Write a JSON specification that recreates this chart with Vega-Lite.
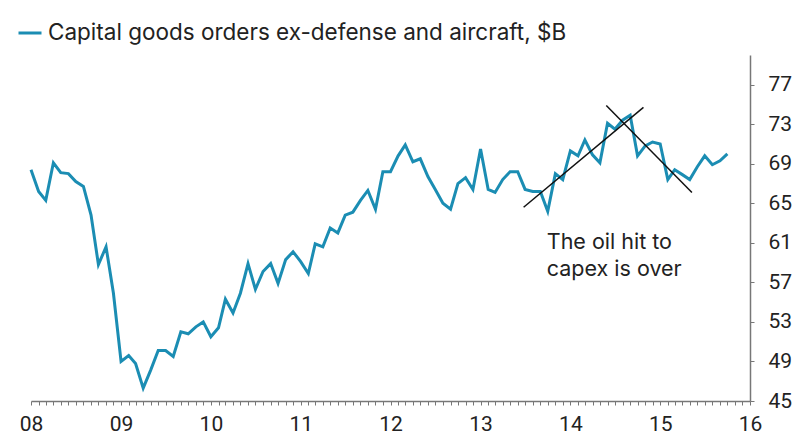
{
  "$schema": "https://vega.github.io/schema/vega-lite/v6.json",
  "width": 719,
  "height": 346,
  "autosize": {"type": "none"},
  "padding": {"left": 31, "top": 55, "right": 50, "bottom": 47},
  "background": "white",
  "config": {
    "view": {"stroke": null},
    "axis": {"grid": false, "labelFont": "Liberation Sans Narrow, Roboto", "labelFontSize": 21, "labelColor": "#222", "domainColor": "#777", "tickColor": "#777", "title": null}
  },
  "datasets": {
    "orders": [
      {"series": "Capital goods orders ex-defense and aircraft, $B", "date": "2008/01/01", "value": 68.4},
      {"series": "Capital goods orders ex-defense and aircraft, $B", "date": "2008/02/01", "value": 66.2},
      {"series": "Capital goods orders ex-defense and aircraft, $B", "date": "2008/03/01", "value": 65.3},
      {"series": "Capital goods orders ex-defense and aircraft, $B", "date": "2008/04/01", "value": 69.1},
      {"series": "Capital goods orders ex-defense and aircraft, $B", "date": "2008/05/01", "value": 68.1},
      {"series": "Capital goods orders ex-defense and aircraft, $B", "date": "2008/06/01", "value": 68.0},
      {"series": "Capital goods orders ex-defense and aircraft, $B", "date": "2008/07/01", "value": 67.2},
      {"series": "Capital goods orders ex-defense and aircraft, $B", "date": "2008/08/01", "value": 66.7},
      {"series": "Capital goods orders ex-defense and aircraft, $B", "date": "2008/09/01", "value": 63.8},
      {"series": "Capital goods orders ex-defense and aircraft, $B", "date": "2008/10/01", "value": 58.8},
      {"series": "Capital goods orders ex-defense and aircraft, $B", "date": "2008/11/01", "value": 60.6},
      {"series": "Capital goods orders ex-defense and aircraft, $B", "date": "2008/12/01", "value": 55.9},
      {"series": "Capital goods orders ex-defense and aircraft, $B", "date": "2009/01/01", "value": 49.0},
      {"series": "Capital goods orders ex-defense and aircraft, $B", "date": "2009/02/01", "value": 49.6},
      {"series": "Capital goods orders ex-defense and aircraft, $B", "date": "2009/03/01", "value": 48.8},
      {"series": "Capital goods orders ex-defense and aircraft, $B", "date": "2009/04/01", "value": 46.3},
      {"series": "Capital goods orders ex-defense and aircraft, $B", "date": "2009/05/01", "value": 48.1},
      {"series": "Capital goods orders ex-defense and aircraft, $B", "date": "2009/06/01", "value": 50.1},
      {"series": "Capital goods orders ex-defense and aircraft, $B", "date": "2009/07/01", "value": 50.1},
      {"series": "Capital goods orders ex-defense and aircraft, $B", "date": "2009/08/01", "value": 49.5},
      {"series": "Capital goods orders ex-defense and aircraft, $B", "date": "2009/09/01", "value": 52.0},
      {"series": "Capital goods orders ex-defense and aircraft, $B", "date": "2009/10/01", "value": 51.8},
      {"series": "Capital goods orders ex-defense and aircraft, $B", "date": "2009/11/01", "value": 52.5},
      {"series": "Capital goods orders ex-defense and aircraft, $B", "date": "2009/12/01", "value": 53.0},
      {"series": "Capital goods orders ex-defense and aircraft, $B", "date": "2010/01/01", "value": 51.5},
      {"series": "Capital goods orders ex-defense and aircraft, $B", "date": "2010/02/01", "value": 52.4},
      {"series": "Capital goods orders ex-defense and aircraft, $B", "date": "2010/03/01", "value": 55.3},
      {"series": "Capital goods orders ex-defense and aircraft, $B", "date": "2010/04/01", "value": 53.9},
      {"series": "Capital goods orders ex-defense and aircraft, $B", "date": "2010/05/01", "value": 55.9},
      {"series": "Capital goods orders ex-defense and aircraft, $B", "date": "2010/06/01", "value": 58.9},
      {"series": "Capital goods orders ex-defense and aircraft, $B", "date": "2010/07/01", "value": 56.3},
      {"series": "Capital goods orders ex-defense and aircraft, $B", "date": "2010/08/01", "value": 58.1},
      {"series": "Capital goods orders ex-defense and aircraft, $B", "date": "2010/09/01", "value": 58.9},
      {"series": "Capital goods orders ex-defense and aircraft, $B", "date": "2010/10/01", "value": 56.9},
      {"series": "Capital goods orders ex-defense and aircraft, $B", "date": "2010/11/01", "value": 59.3},
      {"series": "Capital goods orders ex-defense and aircraft, $B", "date": "2010/12/01", "value": 60.1},
      {"series": "Capital goods orders ex-defense and aircraft, $B", "date": "2011/01/01", "value": 59.1},
      {"series": "Capital goods orders ex-defense and aircraft, $B", "date": "2011/02/01", "value": 57.9},
      {"series": "Capital goods orders ex-defense and aircraft, $B", "date": "2011/03/01", "value": 60.9},
      {"series": "Capital goods orders ex-defense and aircraft, $B", "date": "2011/04/01", "value": 60.6},
      {"series": "Capital goods orders ex-defense and aircraft, $B", "date": "2011/05/01", "value": 62.5},
      {"series": "Capital goods orders ex-defense and aircraft, $B", "date": "2011/06/01", "value": 62.0},
      {"series": "Capital goods orders ex-defense and aircraft, $B", "date": "2011/07/01", "value": 63.8},
      {"series": "Capital goods orders ex-defense and aircraft, $B", "date": "2011/08/01", "value": 64.1},
      {"series": "Capital goods orders ex-defense and aircraft, $B", "date": "2011/09/01", "value": 65.3},
      {"series": "Capital goods orders ex-defense and aircraft, $B", "date": "2011/10/01", "value": 66.3},
      {"series": "Capital goods orders ex-defense and aircraft, $B", "date": "2011/11/01", "value": 64.4},
      {"series": "Capital goods orders ex-defense and aircraft, $B", "date": "2011/12/01", "value": 68.2},
      {"series": "Capital goods orders ex-defense and aircraft, $B", "date": "2012/01/01", "value": 68.2},
      {"series": "Capital goods orders ex-defense and aircraft, $B", "date": "2012/02/01", "value": 69.8},
      {"series": "Capital goods orders ex-defense and aircraft, $B", "date": "2012/03/01", "value": 70.9},
      {"series": "Capital goods orders ex-defense and aircraft, $B", "date": "2012/04/01", "value": 69.2},
      {"series": "Capital goods orders ex-defense and aircraft, $B", "date": "2012/05/01", "value": 69.5},
      {"series": "Capital goods orders ex-defense and aircraft, $B", "date": "2012/06/01", "value": 67.7},
      {"series": "Capital goods orders ex-defense and aircraft, $B", "date": "2012/07/01", "value": 66.4},
      {"series": "Capital goods orders ex-defense and aircraft, $B", "date": "2012/08/01", "value": 65.0},
      {"series": "Capital goods orders ex-defense and aircraft, $B", "date": "2012/09/01", "value": 64.4},
      {"series": "Capital goods orders ex-defense and aircraft, $B", "date": "2012/10/01", "value": 67.0},
      {"series": "Capital goods orders ex-defense and aircraft, $B", "date": "2012/11/01", "value": 67.6},
      {"series": "Capital goods orders ex-defense and aircraft, $B", "date": "2012/12/01", "value": 66.4},
      {"series": "Capital goods orders ex-defense and aircraft, $B", "date": "2013/01/01", "value": 70.5},
      {"series": "Capital goods orders ex-defense and aircraft, $B", "date": "2013/02/01", "value": 66.4},
      {"series": "Capital goods orders ex-defense and aircraft, $B", "date": "2013/03/01", "value": 66.1},
      {"series": "Capital goods orders ex-defense and aircraft, $B", "date": "2013/04/01", "value": 67.4},
      {"series": "Capital goods orders ex-defense and aircraft, $B", "date": "2013/05/01", "value": 68.2},
      {"series": "Capital goods orders ex-defense and aircraft, $B", "date": "2013/06/01", "value": 68.2},
      {"series": "Capital goods orders ex-defense and aircraft, $B", "date": "2013/07/01", "value": 66.4},
      {"series": "Capital goods orders ex-defense and aircraft, $B", "date": "2013/08/01", "value": 66.2},
      {"series": "Capital goods orders ex-defense and aircraft, $B", "date": "2013/09/01", "value": 66.2},
      {"series": "Capital goods orders ex-defense and aircraft, $B", "date": "2013/10/01", "value": 64.2},
      {"series": "Capital goods orders ex-defense and aircraft, $B", "date": "2013/11/01", "value": 68.0},
      {"series": "Capital goods orders ex-defense and aircraft, $B", "date": "2013/12/01", "value": 67.4},
      {"series": "Capital goods orders ex-defense and aircraft, $B", "date": "2014/01/01", "value": 70.3},
      {"series": "Capital goods orders ex-defense and aircraft, $B", "date": "2014/02/01", "value": 69.8},
      {"series": "Capital goods orders ex-defense and aircraft, $B", "date": "2014/03/01", "value": 71.4},
      {"series": "Capital goods orders ex-defense and aircraft, $B", "date": "2014/04/01", "value": 69.9},
      {"series": "Capital goods orders ex-defense and aircraft, $B", "date": "2014/05/01", "value": 69.1},
      {"series": "Capital goods orders ex-defense and aircraft, $B", "date": "2014/06/01", "value": 73.1},
      {"series": "Capital goods orders ex-defense and aircraft, $B", "date": "2014/07/01", "value": 72.5},
      {"series": "Capital goods orders ex-defense and aircraft, $B", "date": "2014/08/01", "value": 73.4},
      {"series": "Capital goods orders ex-defense and aircraft, $B", "date": "2014/09/01", "value": 73.9},
      {"series": "Capital goods orders ex-defense and aircraft, $B", "date": "2014/10/01", "value": 69.8},
      {"series": "Capital goods orders ex-defense and aircraft, $B", "date": "2014/11/01", "value": 70.8},
      {"series": "Capital goods orders ex-defense and aircraft, $B", "date": "2014/12/01", "value": 71.2},
      {"series": "Capital goods orders ex-defense and aircraft, $B", "date": "2015/01/01", "value": 71.0},
      {"series": "Capital goods orders ex-defense and aircraft, $B", "date": "2015/02/01", "value": 67.4},
      {"series": "Capital goods orders ex-defense and aircraft, $B", "date": "2015/03/01", "value": 68.4},
      {"series": "Capital goods orders ex-defense and aircraft, $B", "date": "2015/04/01", "value": 67.9},
      {"series": "Capital goods orders ex-defense and aircraft, $B", "date": "2015/05/01", "value": 67.4},
      {"series": "Capital goods orders ex-defense and aircraft, $B", "date": "2015/06/01", "value": 68.7},
      {"series": "Capital goods orders ex-defense and aircraft, $B", "date": "2015/07/01", "value": 69.8},
      {"series": "Capital goods orders ex-defense and aircraft, $B", "date": "2015/08/01", "value": 68.9},
      {"series": "Capital goods orders ex-defense and aircraft, $B", "date": "2015/09/01", "value": 69.3},
      {"series": "Capital goods orders ex-defense and aircraft, $B", "date": "2015/10/01", "value": 70.0}
    ],
    "trend": [
      {"seg": "up", "date": "2013/06/25", "value": 64.6},
      {"seg": "up", "date": "2014/10/25", "value": 74.7},
      {"seg": "down", "date": "2014/05/27", "value": 74.9},
      {"seg": "down", "date": "2015/05/10", "value": 66.1}
    ],
    "notes": [
      {"date": "2013/09/27", "value": 61.0, "text": "The oil hit to"},
      {"date": "2013/09/27", "value": 58.3, "text": "capex is over"}
    ]
  },
  "encoding": {
    "x": {
      "field": "date", "type": "temporal",
      "scale": {"domain": ["2008/01/01", "2016/01/01"]},
      "axis": {
        "tickCount": {"interval": "month", "step": 1},
        "labelExpr": "month(datum.value) == 0 ? timeFormat(datum.value, '%y') : ''",
        "labelOverlap": false,
        "labelFlush": false,
        "tickSize": 4,
        "labelPadding": 8,
        "domainWidth": 1.5
      }
    },
    "y": {
      "field": "value", "type": "quantitative",
      "scale": {"domain": [45, 80], "nice": false, "zero": false},
      "axis": {
        "orient": "right",
        "values": [45, 49, 53, 57, 61, 65, 69, 73, 77],
        "tickSize": 4,
        "labelPadding": 14,
        "labelBaseline": "middle",
        "domainWidth": 1.5
      }
    }
  },
  "layer": [
    {
      "data": {"name": "orders"},
      "mark": {"type": "line", "strokeWidth": 3},
      "encoding": {
        "color": {
          "field": "series", "type": "nominal",
          "scale": {"range": ["#1b8db3"]},
          "legend": {
            "title": null, "orient": "none", "legendX": -14, "legendY": -35,
            "symbolType": "stroke", "symbolStrokeWidth": 3, "symbolSize": 529,
            "labelFont": "Inter", "labelFontSize": 22.5, "labelColor": "#222",
            "labelLimit": 0, "labelOffset": 5, "padding": 0
          }
        }
      }
    },
    {
      "data": {"name": "trend"},
      "mark": {"type": "line", "color": "#111", "strokeWidth": 1.5},
      "encoding": {"detail": {"field": "seg", "type": "nominal"}}
    },
    {
      "data": {"name": "notes"},
      "mark": {"type": "text", "align": "left", "baseline": "middle", "font": "Inter", "fontSize": 21.5, "color": "#222"},
      "encoding": {"text": {"field": "text", "type": "nominal"}}
    }
  ]
}
